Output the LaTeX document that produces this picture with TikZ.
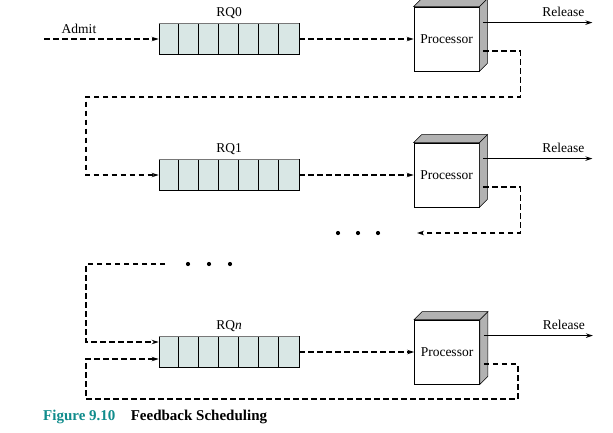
\documentclass[tikz,border=0pt]{standalone}
\usepackage{fontspec}
\setmainfont{Liberation Serif}
\usetikzlibrary{positioning,arrows.meta,calc}
\definecolor{queueFill}{RGB}{217,231,229}
\definecolor{queueEdge}{RGB}{120,120,120}
\definecolor{boxSide}{RGB}{178,178,178}
\definecolor{capTeal}{RGB}{16,140,140}
\tikzset{
  queue/.style={draw=black, fill=queueFill, line width=0.8pt, minimum width=140pt, minimum height=31pt, inner sep=0pt},
  proc/.style={draw=black, fill=white, line width=0.8pt, minimum width=65pt, minimum height=64pt, inner sep=0pt, font=\fontsize{13.5}{15}\selectfont},
  flow/.style={line width=1.3pt, dash pattern=on 5.5pt off 3.5pt},
  tip/.style={-{Stealth[length=7pt,width=4.5pt]}},
  lbl/.style={font=\fontsize{13.5}{15}\selectfont, inner sep=1pt}
}
\begin{document}
\begin{tikzpicture}[x=1pt,y=1pt]
  \useasboundingbox (0,0) rectangle (613,-432);

  % ready queues
  \node[queue] (q0) at (229,-39) {};
  \node[queue] (q1) at (229,-175) {};
  \node[queue] (q2) at (229,-352) {};
  \foreach \q/\t in {q0/RQ0, q1/RQ1, q2/RQ\textit{n}} {
    \foreach \i in {1,...,6}
      \draw[line width=0.9pt] ($(\q.south west)+(\i*20,0)$) -- ($(\q.north west)+(\i*20,0)$);
    \draw[queueEdge, line width=1.2pt] (\q.north west) -- (\q.north east);
    \node[lbl, above=3pt of \q] {\t};
  }

  % processors
  \node[proc] (p0) at (446.5,-39) {Processor};
  \node[proc] (p1) at (446.5,-175) {Processor};
  \node[proc] (p2) at (447,-352) {Processor};
  \foreach \p in {p0,p1,p2} {
    \draw[fill=boxSide, line width=0.6pt] (\p.north east) -- ++(8,8) -- ($(\p.south east)+(8,8)$) -- (\p.south east) -- cycle;
    \draw[fill=boxSide, line width=0.6pt] (\p.north west) -- ++(8,8) -- ($(\p.north east)+(8,8)$) -- (\p.north east) -- cycle;
    \coordinate (\p out) at ($(\p.north east)+(4,-16)$);
    \coordinate (\p back) at ($(\p.east)+(4,-12)$);
  }

  % release
  \foreach \p in {p0,p1,p2} {
    \coordinate (\p rel) at ($(\p out)+(109,0)$);
    \draw[line width=1.2pt, tip] (\p out) -- (\p rel);
    \node[lbl] at ($(\p rel)+(-29,11)$) {Release};
  }

  % admit
  \coordinate (admit) at (44,-39);
  \draw[flow, tip] (admit) -- (q0.west);
  \node[lbl] at ($(admit)+(35,10)$) {Admit};

  % queue to processor
  \draw[flow, tip] (q0.east) -- (p0.west);
  \draw[flow, tip] (q1.east) -- (p1.west);
  \draw[flow, tip] (q2.east) -- (p2.west);

  % feedback
  \draw[flow, tip] (p0back) -- ++(37,0) |- (86,-97) |- (q1.west);
  \coordinate (more1) at (417,-233);
  \draw[flow, tip] (p1back) -- ++(37,0) |- (more1);
  \coordinate (more2) at (165,-264);
  \draw[flow, tip] (more2) -- (86,-264) |- ([yshift=10pt]q2.west);
  \draw[flow, tip] (p2back) -- ++(34,0) |- (86,-399) |- ([yshift=-7pt]q2.west);

  % dots
  \foreach \x in {338,358,378} \fill (\x,-233) circle (2.1pt);
  \foreach \x in {188,209,230} \fill (\x,-264) circle (2.1pt);

  % caption
  \node[anchor=west, inner sep=0pt, font=\fontsize{15}{17}\selectfont\bfseries, text=capTeal] (fig) at (43,-417) {Figure 9.10};
  \node[anchor=west, inner sep=0pt, font=\fontsize{15}{17}\selectfont\bfseries, right=15pt of fig] {Feedback Scheduling};
\end{tikzpicture}
\end{document}
